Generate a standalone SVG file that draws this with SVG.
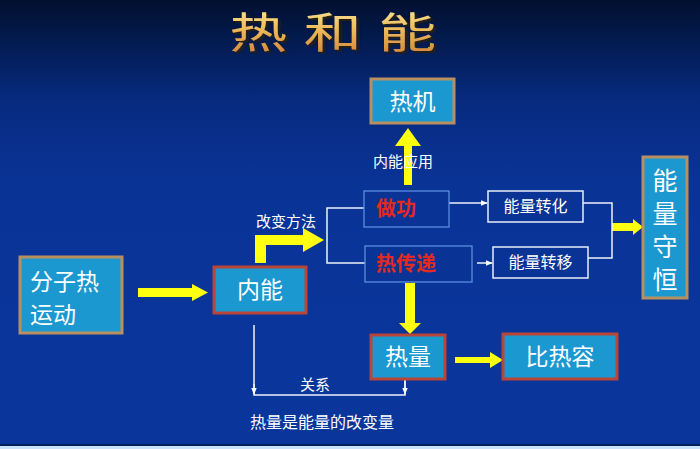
<svg xmlns="http://www.w3.org/2000/svg" width="700" height="449" viewBox="0 0 700 449">
<defs>
<linearGradient id="bg" x1="0" y1="0" x2="0" y2="1">
<stop offset="0" stop-color="#01102f"/>
<stop offset="0.22" stop-color="#062a7e"/>
<stop offset="0.4" stop-color="#0a3396"/>
<stop offset="1" stop-color="#0a369c"/>
</linearGradient>
<linearGradient id="gold" x1="0" y1="0" x2="0" y2="1">
<stop offset="0" stop-color="#fff3b0"/>
<stop offset="0.45" stop-color="#f0c060"/>
<stop offset="1" stop-color="#d07a30"/>
</linearGradient>
<filter id="sh" x="-10%" y="-20%" width="130%" height="150%">
<feDropShadow dx="2" dy="2" stdDeviation="0.6" flood-color="#2a1a08" flood-opacity="0.85"/>
</filter>
<marker id="ah" viewBox="0 0 10 10" refX="9" refY="5" markerWidth="7" markerHeight="7" orient="auto" markerUnits="userSpaceOnUse">
<path d="M0,1 L10,5 L0,9 Z" fill="#ffffff"/>
</marker>
<style>
.cj{font-family:"Noto Sans CJK SC","Liberation Sans",sans-serif;}
.bx{fill:#1b98d0;stroke-width:3;}
.tan{stroke:#b89060;}
.red{stroke:#b84535;}
.lb{fill:#0a3396;stroke:#5b8ee0;stroke-width:1.3;}
.wb{fill:#0a3396;stroke:#e8eef8;stroke-width:1.5;}
.big{fill:#ffffff;font-size:23px;}
.mid{fill:#ffffff;font-size:16px;}
.sm{fill:#ffffff;font-size:15px;}
.rt{fill:#e22a22;font-size:20px;font-weight:bold;}
.ln{fill:none;stroke:#eef2fa;stroke-width:1.5;}
.ya{fill:#ffff10;}
</style>
</defs>
<rect x="0" y="0" width="700" height="449" fill="url(#bg)"/>
<rect x="0" y="444" width="700" height="2" fill="#06205a"/>
<rect x="0" y="446" width="700" height="3" fill="#c8e2fa"/>

<g id="title">
<g transform="translate(341,0) scale(1.38,1) translate(-341,0)">
<text x="341" y="48" text-anchor="middle" class="cj" font-size="42" letter-spacing="12" fill="url(#gold)" filter="url(#sh)">热和能</text>
</g>
</g>

<g id="connectors">
<!-- yellow arrows -->
<path class="ya" d="M138,288 H192 V284 L208,292.5 L192,301 V297 H138 Z"/>
<path class="ya" d="M255,263 V235 H303 V228 L324,240 L303,252 V245 H266 V263 Z"/>
<path class="ya" d="M404,185 V146 H395 L408,128 L421,146 H412 V185 Z"/>
<path class="ya" d="M405,283 V323 H399 L410,334 L421,323 H415 V283 Z"/>
<path class="ya" d="M455,357 H490 V352 L503,360 L490,368 V363 H455 Z"/>
<path class="ya" d="M612,223 H633 V219 L643,227 L633,235 V231 H612 Z"/>
<!-- white lines -->
<path class="ln" d="M364,208 H327 V263 H365"/>
<path class="ln" d="M449,203 H487" marker-end="url(#ah)"/>
<path class="ln" d="M477,263 H492" marker-end="url(#ah)"/>
<path class="ln" d="M583,203 H612 V258 H588"/>
<path class="ln" d="M254,325 V395 H405 V380"/>
<path class="ln" d="M254,384 V394" marker-end="url(#ah)"/>
<path class="ln" d="M405,380 V394" marker-end="url(#ah)"/>
</g>

<g id="n-fenzi">
<rect class="bx tan" x="20" y="257" width="102" height="76"/>
<text class="cj big" x="30" y="290">分子热</text>
<text class="cj big" x="30" y="323">运动</text>
</g>

<g id="n-neineng">
<rect class="bx red" x="214" y="267" width="92" height="46"/>
<text class="cj big" x="260" y="298" text-anchor="middle">内能</text>
</g>

<g id="n-reji">
<rect class="bx tan" x="371" y="79" width="83" height="44"/>
<text class="cj big" x="412.5" y="110" text-anchor="middle">热机</text>
</g>

<g id="n-zuogong">
<rect class="lb" x="364" y="191" width="85" height="36"/>
<text class="cj rt" x="376" y="216">做功</text>
</g>

<g id="n-rechuandi">
<rect class="lb" x="365" y="246" width="107" height="36"/>
<text class="cj rt" x="376" y="271">热传递</text>
</g>

<g id="n-zhuanhua">
<rect class="wb" x="488" y="191" width="95" height="31"/>
<text class="cj mid" x="535.5" y="212" text-anchor="middle">能量转化</text>
</g>

<g id="n-zhuanyi">
<rect class="wb" x="493" y="247" width="95" height="31"/>
<text class="cj mid" x="540.5" y="268" text-anchor="middle">能量转移</text>
</g>

<g id="n-shouheng">
<rect class="bx tan" x="643" y="157" width="44" height="141"/>
<text class="cj" fill="#ffffff" font-size="25" x="665" y="168" writing-mode="vertical-rl" letter-spacing="8">能量守恒</text>
</g>

<g id="n-reliang">
<rect class="bx red" x="371" y="335" width="74" height="44"/>
<text class="cj big" x="408" y="365" text-anchor="middle">热量</text>
</g>

<g id="n-bire">
<rect class="bx red" x="503" y="334" width="114" height="45"/>
<text class="cj big" x="560" y="365" text-anchor="middle">比热容</text>
</g>

<g id="labels">
<text class="cj sm" x="373" y="167">内能应用</text>
<text class="cj sm" x="256" y="227">改变方法</text>
<text class="cj sm" x="300" y="390">关系</text>
<text class="cj mid" x="250" y="428">热量是能量的改变量</text>
</g>
</svg>
